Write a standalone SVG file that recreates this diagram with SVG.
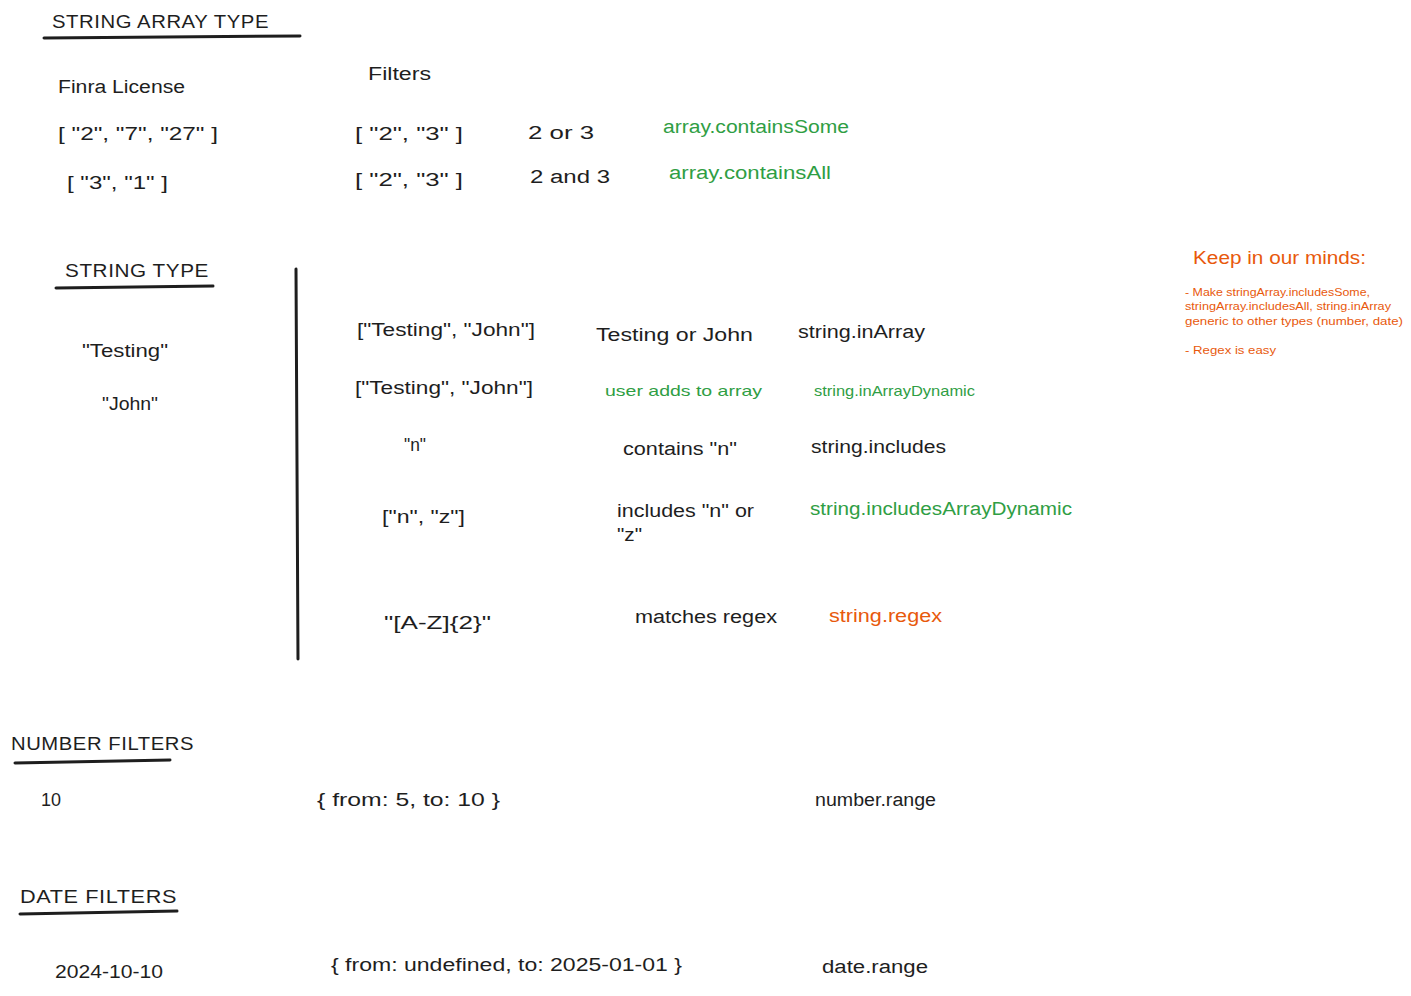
<svg xmlns="http://www.w3.org/2000/svg" width="1411" height="996" viewBox="0 0 1411 996">
<style>
text{font-family:"Liberation Sans","DejaVu Sans",sans-serif;font-size:18px;fill:#1e1e1e}
.g{fill:#2f9e44}
.o{fill:#e8590c}
.s{font-size:15px}
.n{font-size:11px}
.h{font-size:18px;letter-spacing:0.5px}
.ln{stroke:#1e1e1e;stroke-width:3;stroke-linecap:round;fill:none}
</style>
<rect width="1411" height="996" fill="#ffffff"/>
<g id="string-array">
<text class="h" x="52" y="28" textLength="217" lengthAdjust="spacingAndGlyphs">STRING ARRAY TYPE</text>
<path class="ln" d="M44 38 L300 36"/>
<text x="58" y="93" textLength="127" lengthAdjust="spacingAndGlyphs">Finra License</text>
<text x="368" y="80" textLength="63" lengthAdjust="spacingAndGlyphs">Filters</text>
<text x="58" y="140" textLength="160" lengthAdjust="spacingAndGlyphs">[ "2", "7", "27" ]</text>
<text x="67" y="189" textLength="101" lengthAdjust="spacingAndGlyphs">[ "3", "1" ]</text>
<text x="355" y="140" textLength="108" lengthAdjust="spacingAndGlyphs">[ "2", "3" ]</text>
<text x="355" y="186" textLength="108" lengthAdjust="spacingAndGlyphs">[ "2", "3" ]</text>
<text x="528" y="139" textLength="66" lengthAdjust="spacingAndGlyphs">2 or 3</text>
<text x="530" y="183" textLength="80" lengthAdjust="spacingAndGlyphs">2 and 3</text>
<text class="g" x="663" y="133" textLength="186" lengthAdjust="spacingAndGlyphs">array.containsSome</text>
<text class="g" x="669" y="179" textLength="162" lengthAdjust="spacingAndGlyphs">array.containsAll</text>
</g>
<g id="string-type">
<text class="h" x="65" y="277" textLength="144" lengthAdjust="spacingAndGlyphs">STRING TYPE</text>
<path class="ln" d="M56 288 L213 286"/>
<path class="ln" d="M296 269 L298 659"/>
<text x="82" y="357" textLength="86" lengthAdjust="spacingAndGlyphs">"Testing"</text>
<text x="102" y="410" textLength="56" lengthAdjust="spacingAndGlyphs">"John"</text>
<text x="357" y="336" textLength="178" lengthAdjust="spacingAndGlyphs">["Testing", "John"]</text>
<text x="355" y="394" textLength="178" lengthAdjust="spacingAndGlyphs">["Testing", "John"]</text>
<text x="596" y="341" textLength="157" lengthAdjust="spacingAndGlyphs">Testing or John</text>
<text x="798" y="338" textLength="127" lengthAdjust="spacingAndGlyphs">string.inArray</text>
<text class="g s" x="605" y="396" textLength="157" lengthAdjust="spacingAndGlyphs">user adds to array</text>
<text class="g s" x="814" y="396" textLength="161" lengthAdjust="spacingAndGlyphs">string.inArrayDynamic</text>
<text x="404" y="451" textLength="22" lengthAdjust="spacingAndGlyphs">"n"</text>
<text x="623" y="455" textLength="114" lengthAdjust="spacingAndGlyphs">contains "n"</text>
<text x="811" y="453" textLength="135" lengthAdjust="spacingAndGlyphs">string.includes</text>
<text x="382" y="523" textLength="83" lengthAdjust="spacingAndGlyphs">["n", "z"]</text>
<text x="617" y="517" textLength="137" lengthAdjust="spacingAndGlyphs">includes "n" or</text>
<text x="617" y="541" textLength="25" lengthAdjust="spacingAndGlyphs">"z"</text>
<text class="g" x="810" y="515" textLength="262" lengthAdjust="spacingAndGlyphs">string.includesArrayDynamic</text>
<text x="384" y="629" textLength="107" lengthAdjust="spacingAndGlyphs">"[A-Z]{2}"</text>
<text x="635" y="623" textLength="142" lengthAdjust="spacingAndGlyphs">matches regex</text>
<text class="o" x="829" y="622" textLength="113" lengthAdjust="spacingAndGlyphs">string.regex</text>
</g>
<g id="note">
<text class="o" x="1193" y="264" textLength="173" lengthAdjust="spacingAndGlyphs">Keep in our minds:</text>
<text class="o n" x="1185" y="296" textLength="185" lengthAdjust="spacingAndGlyphs">- Make stringArray.includesSome,</text>
<text class="o n" x="1185" y="310" textLength="206" lengthAdjust="spacingAndGlyphs">stringArray.includesAll, string.inArray</text>
<text class="o n" x="1185" y="325" textLength="218" lengthAdjust="spacingAndGlyphs">generic to other types (number, date)</text>
<text class="o n" x="1185" y="354" textLength="91" lengthAdjust="spacingAndGlyphs">- Regex is easy</text>
</g>
<g id="number-filters">
<text class="h" x="11" y="750" textLength="183" lengthAdjust="spacingAndGlyphs">NUMBER FILTERS</text>
<path class="ln" d="M15 763 L170 760"/>
<text x="41" y="806" textLength="20" lengthAdjust="spacingAndGlyphs">10</text>
<text x="317" y="806" textLength="183" lengthAdjust="spacingAndGlyphs">{ from: 5, to: 10 }</text>
<text x="815" y="806" textLength="121" lengthAdjust="spacingAndGlyphs">number.range</text>
</g>
<g id="date-filters">
<text class="h" x="20" y="903" textLength="157" lengthAdjust="spacingAndGlyphs">DATE FILTERS</text>
<path class="ln" d="M20 914 L177 911"/>
<text x="55" y="978" textLength="108" lengthAdjust="spacingAndGlyphs">2024-10-10</text>
<text x="331" y="971" textLength="351" lengthAdjust="spacingAndGlyphs">{ from: undefined, to: 2025-01-01 }</text>
<text x="822" y="973" textLength="106" lengthAdjust="spacingAndGlyphs">date.range</text>
</g>
</svg>
